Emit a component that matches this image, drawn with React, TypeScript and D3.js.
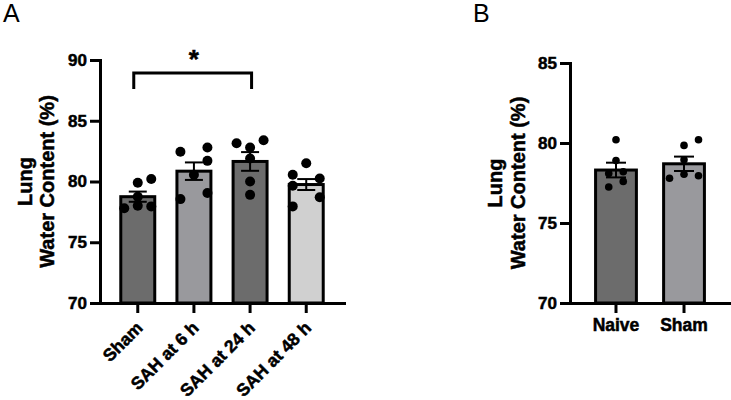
import React, { useEffect, useRef } from "react";
import * as d3 from "d3";

// panel A
const groupsA = ["Sham", "SAH at 6 h", "SAH at 24 h", "SAH at 48 h"];
const meansA = [78.75, 80.85, 81.65, 79.75];
const semsA = [0.42, 0.72, 0.77, 0.45];
const pointsA = [
  [77.8, 79.9, 80.2, 78.75, 78.0, 77.95],
  [82.45, 82.8, 81.7, 80.55, 78.55, 79.05],
  [83.15, 82.8, 83.4, 81.9, 80.0, 78.9],
  [81.5, 80.55, 80.25, 79.65, 77.95, 78.7],
];
const slotsA = [
  [-1, 0, 1, 0, 0, 1],
  [-1, 1, 1, 0, -1, 1],
  [-1, 0, 1, 0, 0, 0],
  [0, -1, 1, -1, -1, 1],
];
const ticksA = [70, 75, 80, 85, 90];

// panel B
const groupsB = ["Naive", "Sham"];
const meansB = [78.31, 78.7];
const semsB = [0.46, 0.45];
const pointsB = [
  [80.2, 78.9, 78.1, 78.2, 77.25, 77.6],
  [80.2, 79.85, 78.95, 77.8, 78.05, 77.95],
];
const slotsB = [
  [0, 0, -0.5, 0.5, -0.5, 0.5],
  [1, 0, 0, -1, 0, 1],
];
const ticksB = [70, 75, 80, 85];

const FONT = "'Liberation Sans', Arial, sans-serif";
const DARK = "#6c6c6c";
const MID = "#99999d";
const LIGHT = "#d0d0d0";

// bold text, a touch heavier like the original export
function boldText(sel, size) {
  return sel
    .attr("font-family", FONT)
    .attr("font-size", size)
    .attr("font-weight", "bold")
    .attr("fill", "black")
    .attr("stroke", "black")
    .attr("stroke-width", 0.5);
}

function drawPanel(svg, o) {
  const x = d3.scaleBand()
    .domain(o.groups)
    .range([o.x0, o.x1])
    .paddingInner(o.padIn)
    .paddingOuter(o.padOut);

  const y = d3.scaleLinear()
    .domain([o.ticks[0], o.ticks[o.ticks.length - 1]])
    .range([303, o.yTop]);

  const g = svg.append("g");

  // bars
  g.selectAll("rect.bar")
    .data(o.groups)
    .join("rect")
    .attr("class", "bar")
    .attr("x", d => x(d))
    .attr("width", x.bandwidth())
    .attr("y", (d, i) => y(o.means[i]))
    .attr("height", (d, i) => y(o.ticks[0]) - y(o.means[i]))
    .attr("fill", (d, i) => o.fills[i])
    .attr("stroke", "black")
    .attr("stroke-width", 3);

  // error bars (mean ± SEM)
  o.groups.forEach((grp, i) => {
    const cx = x(grp) + x.bandwidth() / 2;
    const hi = y(o.means[i] + o.sems[i]);
    const lo = y(o.means[i] - o.sems[i]);
    const eb = g.append("g")
      .attr("stroke", "black")
      .attr("stroke-width", 2);
    eb.append("line").attr("x1", cx).attr("x2", cx).attr("y1", hi).attr("y2", lo);
    eb.append("line").attr("x1", cx - o.cap / 2).attr("x2", cx + o.cap / 2).attr("y1", hi).attr("y2", hi);
    eb.append("line").attr("x1", cx - o.cap / 2).attr("x2", cx + o.cap / 2).attr("y1", lo).attr("y2", lo);
  });

  // points
  o.groups.forEach((grp, i) => {
    const cx = x(grp) + x.bandwidth() / 2;
    g.selectAll(null)
      .data(o.points[i])
      .join("circle")
      .attr("cx", (d, j) => cx + o.slots[i][j] * o.jitter)
      .attr("cy", d => y(d))
      .attr("r", o.r)
      .attr("fill", "black");
  });

  // y axis
  const yAxis = g.append("g")
    .attr("transform", `translate(${o.x0},0)`)
    .call(d3.axisLeft(y).tickValues(o.ticks).tickSize(10).tickSizeOuter(0).tickPadding(3));
  yAxis.select(".domain").attr("stroke-width", 3).attr("stroke-linecap", "square");
  yAxis.selectAll(".tick line").attr("stroke-width", 3);
  boldText(yAxis.selectAll(".tick text"), 17);

  // x axis
  const xAxis = g.append("g")
    .attr("transform", "translate(0,303)")
    .call(d3.axisBottom(x).tickSize(10).tickSizeOuter(0));
  xAxis.select(".domain").attr("stroke-width", 3).attr("stroke-linecap", "square");
  xAxis.selectAll(".tick line").attr("stroke-width", 3);
  xAxis.selectAll(".tick text").remove();

  o.groups.forEach(grp => {
    const cx = x(grp) + x.bandwidth() / 2;
    const t = g.append("text").text(grp);
    if (o.rotate) {
      boldText(t, 17.5)
        .attr("text-anchor", "end")
        .attr("transform", `translate(${cx + 6},329) rotate(-45)`);
    } else {
      boldText(t, 17.5).attr("text-anchor", "middle").attr("x", cx).attr("y", 331);
    }
  });

  // y title
  const midY = (303 + o.yTop) / 2;
  ["Lung", "Water Content (%)"].forEach((line, k) => {
    boldText(g.append("text"), 20)
      .attr("transform", "rotate(-90)")
      .attr("x", -midY)
      .attr("y", o.titleX[k])
      .attr("text-anchor", "middle")
      .text(line);
  });

  // panel letter
  g.append("text")
    .attr("x", o.letterX)
    .attr("y", 22)
    .attr("font-family", FONT)
    .attr("font-size", 25)
    .text(o.letter);

  return { x, y };
}

export default function App() {
  const svgRef = useRef(null);

  useEffect(() => {
    const svg = d3.select(svgRef.current);
    svg.selectAll("*").remove();

    const a = drawPanel(svg, {
      groups: groupsA, means: meansA, sems: semsA, points: pointsA, slots: slotsA,
      ticks: ticksA, fills: [DARK, MID, DARK, LIGHT],
      x0: 100, x1: 344, yTop: 60, padIn: 0.395, padOut: 0.37,
      r: 5, jitter: 13.5, cap: 18, rotate: true,
      titleX: [32, 54], letter: "A", letterX: 3,
    });

    drawPanel(svg, {
      groups: groupsB, means: meansB, sems: semsB, points: pointsB, slots: slotsB,
      ticks: ticksB, fills: [DARK, MID],
      x0: 570, x1: 730, yTop: 63, padIn: 0.4, padOut: 0.376,
      r: 3.8, jitter: 14.5, cap: 20, rotate: false,
      titleX: [502, 525], letter: "B", letterX: 473,
    });

    // significance bracket Sham vs SAH at 24 h
    const c1 = a.x(groupsA[0]) + a.x.bandwidth() / 2;
    const c3 = a.x(groupsA[2]) + a.x.bandwidth() / 2;
    svg.append("path")
      .attr("d", `M${c1 - 4},89V73H${c3 + 1.5}V89`)
      .attr("fill", "none")
      .attr("stroke", "black")
      .attr("stroke-width", 3);
    boldText(svg.append("text"), 26)
      .attr("x", (c1 + c3) / 2)
      .attr("y", 68)
      .attr("text-anchor", "middle")
      .text("*");
  }, []);

  return (
    <div style={{ position: "absolute", left: 0, top: 0, width: 731, height: 400, background: "white" }}>
      <svg ref={svgRef} width={731} height={400}></svg>
    </div>
  );
}
